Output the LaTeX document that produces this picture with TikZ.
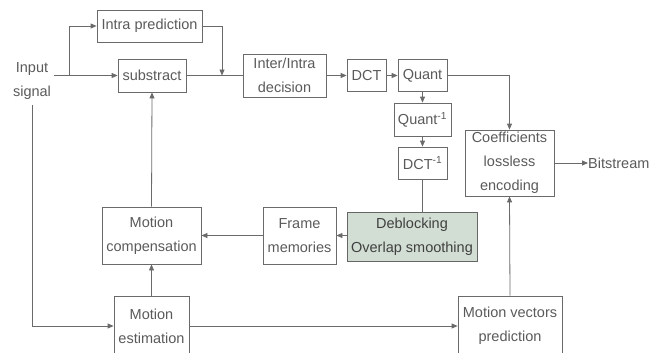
\documentclass[tikz,border=0pt]{standalone}
\usepackage{fontspec}
\setmainfont{Liberation Sans}
\usetikzlibrary{arrows.meta}
\definecolor{linegray}{HTML}{6A6A6A}
\definecolor{textgray}{HTML}{5A5A5A}
\definecolor{debfill}{HTML}{D2DDD4}
\begin{document}
\begin{tikzpicture}[x=1pt,y=-1pt,
  blk/.style={draw=linegray, line width=0.8pt, text=textgray, align=center,
    inner sep=0pt, font=\fontsize{14.5}{24}\selectfont},
  arr/.style={draw=linegray, line width=0.8pt, -{Triangle[length=6pt,width=5pt]}},
  ln/.style={draw=linegray, line width=0.8pt},
  lbl/.style={text=textgray, align=center, font=\fontsize{14.5}{24}\selectfont}]
\useasboundingbox (0,0) rectangle (666,353);
\clip (0,0) rectangle (666,353);

% processing blocks
\node[blk, minimum width=105, minimum height=32] (intra) at (149.5,26) {Intra prediction};
\node[blk, minimum width=68, minimum height=33] (sub) at (152,75.5) {substract};
\node[blk, minimum width=83, minimum height=43] (inter) at (284.5,75.5) {Inter/Intra\\decision};
\node[blk, minimum width=39, minimum height=32] (dct) at (366.5,75.5) {DCT};
\node[blk, minimum width=49, minimum height=32] (quant) at (422.5,75.5) {Quant};
\node[blk, minimum width=57, minimum height=33] (qinv) at (422.5,119.5) {Quant\textsuperscript{-1}};
\node[blk, minimum width=49, minimum height=32] (dinv) at (422.5,163) {DCT\textsuperscript{-1}};
\node[blk, minimum width=89, minimum height=66] (coef) at (509.5,163) {Coefficients\\lossless\\encoding};
\node[lbl, anchor=west, inner sep=0pt] (bits) at (588,163) {Bitstream};
\node[blk, minimum width=99, minimum height=57] (mc) at (151.5,235.5) {Motion\\compensation};
\node[blk, minimum width=73, minimum height=57] (fm) at (299.5,235.5) {Frame\\memories};
\node[blk, fill=debfill, draw=black!60, text=black!75, minimum width=130, minimum height=49] (deb) at (412,236.5) {Deblocking\\Overlap smoothing};
\node[blk, minimum width=75, minimum height=60] (me) at (151.5,326) {Motion\\estimation};
\node[blk, minimum width=104, minimum height=60] (mvp) at (510,326) {Motion vectors\\prediction};

% input
\node[lbl, inner xsep=2.5pt, inner ysep=5pt] (inp) at (32,81) {Input\\signal};
\coordinate (br) at (69,75.5);
\coordinate (jn) at (222,75.5);

% connectors
\draw[ln] (inp.east |- sub.west) -- (br);
\draw[arr] (br) -- (sub.west);
\draw[arr] (br) |- (intra.west);
\draw[arr] (intra.east) -| (jn);
\draw[ln] (sub.east) -- (inter.west);
\draw[arr] (inter.east) -- (dct.west);
\draw[arr] (dct.east) -- (quant.west);
\draw[arr] (quant.east) -| (coef.north);
\draw[arr] (quant.south) -- (qinv.north);
\draw[arr] (qinv.south) -- (dinv.north);
\draw[ln] (dinv.south) -- (deb.north -| dinv.south);
\draw[arr] (deb.west |- fm.east) -- (fm.east);
\draw[arr] (fm.west) -- (mc.east);
\draw[arr] (mc.north) -- (sub.south);
\draw[arr] (inp.south) |- (me.west);
\draw[arr] (me.north) -- (mc.south);
\draw[arr] (me.east) -- (mvp.west);
\draw[arr] (mvp.north) -- (coef.south);
\draw[arr] (coef.east) -- (bits.west);
\end{tikzpicture}
\end{document}
